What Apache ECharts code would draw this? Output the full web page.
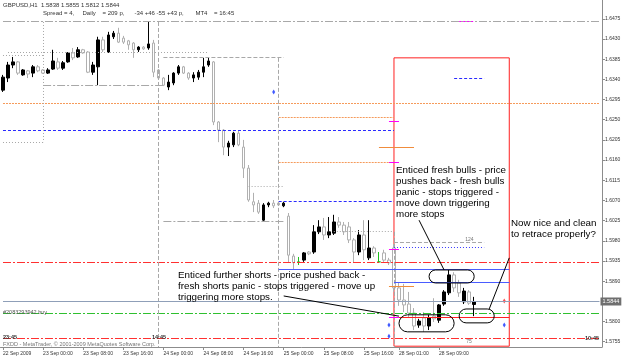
<!DOCTYPE html>
<html>
<head>
<meta charset="utf-8">
<script src="https://cdn.jsdelivr.net/npm/echarts@6/dist/echarts.min.js"></script>
<style>
  html, body { margin: 0; padding: 0; background: #fff; }
  #chart { width: 625px; height: 362px; }
</style>
</head>
<body>
<div id="chart"></div>
<script>
// ---- GBPUSD H1 bars ----
const openP = [
  1.6316, 1.6343, 1.6372, 1.6379, 1.6350, 1.6359, 1.6354, 1.6368, 1.6361, 1.6354,
  1.6363, 1.6379, 1.6365, 1.6379, 1.6399, 1.6390, 1.6406, 1.6401, 1.6356, 1.6368,
  1.6428, 1.6401, 1.6435, 1.6443, 1.6432, 1.6426, 1.6421, 1.6406, 1.6412, 1.6410,
  1.6421, 1.6361, 1.6343, 1.6323, 1.6332, 1.6354, 1.6368, 1.6354, 1.6343, 1.6345,
  1.6356, 1.6372, 1.6379, 1.6245, 1.6227, 1.6189, 1.6194, 1.6220, 1.6189, 1.6142,
  1.6067, 1.6064, 1.6026, 1.6060, 1.6064, 1.6064, 1.6058, 1.6035, 1.5946, 1.5933,
  1.5937, 1.5955, 1.5955, 1.6000, 1.6011, 1.5993, 1.5997, 1.6022, 1.6015, 1.6011,
  1.5982, 1.5955, 1.5993, 1.5942, 1.5964, 1.5933, 1.5953, 1.5937, 1.5964, 1.5875,
  1.5848, 1.5839, 1.5819, 1.5792, 1.5808, 1.5790, 1.5812, 1.5803, 1.5839, 1.5864,
  1.5904, 1.5886, 1.5844, 1.5866, 1.5838
];
const highP = [
  1.6350, 1.6379, 1.6390, 1.6381, 1.6363, 1.6361, 1.6372, 1.6372, 1.6363, 1.6365,
  1.6406, 1.6388, 1.6381, 1.6401, 1.6410, 1.6412, 1.6408, 1.6403, 1.6379, 1.6435,
  1.6435, 1.6446, 1.6448, 1.6455, 1.6437, 1.6428, 1.6423, 1.6414, 1.6414, 1.6468,
  1.6428, 1.6363, 1.6345, 1.6350, 1.6356, 1.6372, 1.6370, 1.6356, 1.6356, 1.6361,
  1.6388, 1.6388, 1.6381, 1.6247, 1.6229, 1.6203, 1.6223, 1.6227, 1.6205, 1.6149,
  1.6087, 1.6071, 1.6064, 1.6067, 1.6071, 1.6067, 1.6067, 1.6042, 1.5951, 1.5944,
  1.5955, 1.5957, 1.6015, 1.6026, 1.6031, 1.6033, 1.6038, 1.6033, 1.6022, 1.6022,
  1.5986, 1.6004, 1.6026, 1.6026, 1.5968, 1.5955, 1.5960, 1.5942, 1.5973, 1.5888,
  1.5884, 1.5866, 1.5830, 1.5806, 1.5821, 1.5815, 1.5852, 1.5839, 1.5870, 1.5915,
  1.5910, 1.5893, 1.5875, 1.5870, 1.5855
];
const lowP = [
  1.6312, 1.6334, 1.6365, 1.6350, 1.6348, 1.6343, 1.6345, 1.6356, 1.6352, 1.6352,
  1.6361, 1.6361, 1.6361, 1.6377, 1.6383, 1.6388, 1.6397, 1.6354, 1.6350, 1.6327,
  1.6401, 1.6399, 1.6430, 1.6421, 1.6419, 1.6406, 1.6388, 1.6401, 1.6406, 1.6406,
  1.6345, 1.6341, 1.6325, 1.6316, 1.6327, 1.6350, 1.6352, 1.6339, 1.6334, 1.6339,
  1.6345, 1.6368, 1.6238, 1.6200, 1.6171, 1.6169, 1.6189, 1.6191, 1.6120, 1.6067,
  1.6044, 1.6040, 1.6022, 1.6055, 1.6053, 1.6058, 1.6055, 1.5931, 1.5915, 1.5926,
  1.5933, 1.5948, 1.5951, 1.5995, 1.5982, 1.5986, 1.5993, 1.6009, 1.5993, 1.5975,
  1.5931, 1.5948, 1.5937, 1.5937, 1.5944, 1.5931, 1.5933, 1.5926, 1.5866, 1.5835,
  1.5821, 1.5808, 1.5781, 1.5786, 1.5777, 1.5781, 1.5799, 1.5797, 1.5835, 1.5859,
  1.5866, 1.5855, 1.5839, 1.5837, 1.5812
];
const closeP = [
  1.6345, 1.6372, 1.6379, 1.6354, 1.6361, 1.6352, 1.6368, 1.6359, 1.6354, 1.6361,
  1.6381, 1.6365, 1.6377, 1.6399, 1.6388, 1.6406, 1.6399, 1.6356, 1.6372, 1.6428,
  1.6406, 1.6439, 1.6443, 1.6423, 1.6423, 1.6417, 1.6406, 1.6412, 1.6408, 1.6419,
  1.6356, 1.6343, 1.6327, 1.6334, 1.6354, 1.6368, 1.6354, 1.6343, 1.6350, 1.6356,
  1.6368, 1.6381, 1.6245, 1.6227, 1.6189, 1.6198, 1.6220, 1.6194, 1.6142, 1.6071,
  1.6060, 1.6044, 1.6060, 1.6064, 1.6058, 1.6060, 1.6064, 1.5948, 1.5931, 1.5933,
  1.5953, 1.5951, 1.6000, 1.6011, 1.5993, 1.6000, 1.6022, 1.6015, 1.6000, 1.5982,
  1.5955, 1.5993, 1.5960, 1.5964, 1.5953, 1.5933, 1.5937, 1.5931, 1.5875, 1.5848,
  1.5837, 1.5819, 1.5790, 1.5801, 1.5790, 1.5808, 1.5806, 1.5837, 1.5866, 1.5904,
  1.5875, 1.5864, 1.5868, 1.5841, 1.5844
];
const dojiBars = [59, 75];

// time axis: [day, first hour, last hour]
const daySegments = [['22 Sep', 16, 23], ['23 Sep', 0, 23], ['24 Sep', 0, 23], ['25 Sep', 0, 21], ['28 Sep', 0, 16]];
const emptySlots = 25; // chart shift on the right
const xLabelBars = [0, 8, 16, 24, 32, 40, 48, 56, 64, 72, 79, 87];
const yTicks = [1.5755, 1.5800, 1.5890, 1.5935, 1.5980, 1.6025, 1.6070, 1.6115, 1.6160,
  1.6205, 1.6250, 1.6295, 1.6340, 1.6385, 1.6430, 1.6475];

// price levels drawn on the chart
const bidPrice = 1.5844;
const topLevel = 1.6468;
const orangeLevels = [1.6287, 1.6256, 1.6154];
const blueDashLevels = [1.6225, 1.6067];
const redDashLevels = [1.5931, 1.5763];
const orderLevel = 1.5819;
const boxHighs = [1.6394, 1.6468, 1.6388];
const boxLows = [1.6200, 1.6327, 1.6022];
const blueSolidLevels = [1.5915, 1.5888];
const stopLevel = 1.5808;
const orangeSolidLevels = [1.6189, 1.5879];
const rangeLevels = [1.5977, 1.5966];
const magentaTicks = [1.6247, 1.6154, 1.5960, 1.5808];
const blueArrows = [[54, 1.6312], [77, 1.5792], [100, 1.5792], [77, 1.5767]];
const redArrows = [[100, 1.5846]];
const boxPrices = [1.6388, 1.5745];

// ---------------------------------------------------
const categories = [];
daySegments.forEach(([day, h0, h1]) => {
  for (let h = h0; h <= h1; h++) categories.push(day + ' ' + String(h).padStart(2, '0') + ':00');
});
for (let k = 0; k < emptySlots; k++) categories.push('');
const lastSlot = categories.length - 0.51; // right edge of the plot

const green = { color: '#1fc01f', color0: '#1fc01f', borderColor: '#1fc01f', borderColor0: '#1fc01f' };
const candles = openP.map((o, i) => {
  const item = { value: [o, closeP[i], lowP[i], highP[i]] };
  if (dojiBars.includes(i)) item.itemStyle = green;
  return item;
});

const yMin = 1.57432, yMax = 1.6517;
const plotH = 347, plotW = 602;
// keep 1px level lines on pixel centres so they stay crisp
const snapP = p => {
  const y = (yMax - p) / (yMax - yMin) * plotH;
  return yMax - (Math.floor(y) + 0.5) / plotH * (yMax - yMin);
};
const slotW = plotW / categories.length;
const snapI = i => {
  const x = (i + 0.5) * slotW;
  return (Math.floor(x) + 0.5) / slotW - 0.5;
};

const DASHDOT = [8, 2, 2, 2];
const st = {
  gray: ['#a8a8a8', DASHDOT],
  grayDot: ['#a8a8a8', [1, 2]],
  grayDash: ['#a8a8a8', [4, 2]],
  orange: ['#f59a5a', [2, 1]],
  orangeSolid: ['#f08c3c', 'solid'],
  blue: ['#2a2aff', [3, 2]],
  blueDot: ['#3a3aff', [1, 2]],
  blueSolid: ['#4a5cff', 'solid'],
  red: ['#ff3030', DASHDOT],
  redSolid: ['#ff2020', 'solid'],
  green: ['#2fc02f', DASHDOT],
  bid: ['#8f9fb8', 'solid'],
  magenta: ['#ff00ff', 'solid'],
  magentaDash: ['#ff00ff', [2, 2]]
};
const ls = s => ({ color: s[0], width: 1, type: Array.isArray(s[1]) ? s[1].slice() : s[1], opacity: 1 });
const seg = (a, b, p, s) => [{ coord: [a, snapP(p)], lineStyle: ls(s) }, { coord: [b, snapP(p)] }];
const vseg = (i, p1, p2, s) => [{ coord: [snapI(i), p1], lineStyle: ls(s) }, { coord: [snapI(i), p2] }];
const full = (p, s) => seg(-0.49, lastSlot, p, s);

const bidLine = full(bidPrice, st.bid);
bidLine[0].label = {
  show: true, position: 'end', distance: 1, formatter: bidPrice.toFixed(4),
  backgroundColor: '#6f6f6f', color: '#fff', fontSize: 5.5, padding: [1, 2, 1, 2],
  fontFamily: 'Liberation Sans'
};

const lines = [
  full(topLevel, st.gray),
  full(orangeLevels[0], st.orange),
  full(redDashLevels[0], st.red),
  full(redDashLevels[1], st.red),
  full(orderLevel, st.green),
  seg(-0.49, 78, blueDashLevels[0], st.blue),
  seg(55.3, 78, blueDashLevels[1], st.blue),
  seg(55.3, 78, orangeLevels[1], st.orange),
  seg(55.3, 78, orangeLevels[2], st.orange),
  // daily range boxes
  seg(0, 8, boxHighs[0], st.grayDot),
  seg(0, 8, boxLows[0], st.grayDot),
  seg(8, 32, boxLows[1], st.gray),
  seg(32, 56, boxHighs[2], st.grayDash),
  seg(32, 56, boxLows[2], st.gray),
  seg(1, 41, 1.6401, st.grayDot),
  seg(49, 56, 1.6102, st.grayDot),
  seg(66, 78, 1.6000, st.grayDot),
  vseg(8, boxHighs[1], boxLows[0], st.grayDot),
  vseg(31.5, boxHighs[1], yMin, st.grayDash),
  vseg(55.3, boxHighs[2], yMin, st.grayDash),
  vseg(78, 1.6000, yMin, st.grayDash),
  // Monday structure
  seg(55.3, 101, blueSolidLevels[0], st.blueSolid),
  seg(78, 101, blueSolidLevels[1], st.blueSolid),
  seg(78, 101, stopLevel, st.redSolid),
  seg(78, 96, rangeLevels[0], st.grayDash),
  seg(78, 96, rangeLevels[1], st.blueDot),
  seg(74.8, 81.6, orangeSolidLevels[0], st.orangeSolid),
  seg(76.8, 81.6, orangeSolidLevels[1], st.orangeSolid),
  seg(90.8, 93.6, topLevel, st.magentaDash),
  seg(89.5, 95.5, 1.6343, st.blue),
  ...magentaTicks.map(p => seg(77.4, 78.6, p, st.magenta)),
  bidLine
];

const chart = echarts.init(document.getElementById('chart'));
chart.setOption({
  animation: false,
  backgroundColor: '#ffffff',
  grid: { left: 0, right: 23, top: 0, bottom: 15 },
  xAxis: {
    type: 'category',
    data: categories,
    boundaryGap: true,
    axisLine: { lineStyle: { color: '#8c8c8c', width: 1 } },
    axisTick: { show: true, alignWithLabel: true, interval: i => xLabelBars.includes(i), length: 3, lineStyle: { color: '#8c8c8c' } },
    axisLabel: {
      interval: i => xLabelBars.includes(i),
      formatter: (v, i) => (i === 0 ? '22 Sep 2009' : v),
      align: 'left', fontSize: 5, color: '#333', margin: 4, fontFamily: 'Liberation Sans'
    },
    splitLine: { show: false }
  },
  yAxis: {
    type: 'value',
    position: 'right',
    min: yMin,
    max: yMax,
    axisLine: { show: true, lineStyle: { color: '#8c8c8c' } },
    axisTick: { show: true, customValues: yTicks, length: 3, lineStyle: { color: '#8c8c8c' } },
    axisLabel: { customValues: yTicks, formatter: v => v.toFixed(4), fontSize: 5, color: '#333', margin: 3, fontFamily: 'Liberation Sans' },
    splitLine: { show: false }
  },
  series: [
    {
      // level lines and the red box live on their own carrier series
      type: 'scatter', data: redArrows, symbol: 'diamond', symbolSize: [3, 5],
      itemStyle: { color: '#ff2020' }, z: 1,
      markLine: { silent: true, symbol: ['none', 'none'], label: { show: false }, data: lines },
      markArea: {
        silent: true,
        itemStyle: { color: 'rgba(0,0,0,0)', borderColor: '#ff2020', borderWidth: 1 },
        data: [[{ coord: [78, boxPrices[0]] }, { coord: [101, boxPrices[1]] }]]
      }
    },
    {
      type: 'candlestick',
      data: candles,
      barWidth: 3,
      z: 3,
      itemStyle: { color: '#000', borderColor: '#000', color0: '#fff', borderColor0: '#b0b0b0', borderWidth: 1 }
    },
    {
      type: 'scatter', data: blueArrows, symbol: 'diamond', symbolSize: [3, 5],
      itemStyle: { color: '#1030ff' }, z: 5
    }
  ]
});

// annotations placed through the chart's own scales
const px = (i, p) => chart.convertToPixel({ gridIndex: 0 }, [i, p]);
const ellipse = (i1, p1, i2, p2) => {
  const a = px(i1, p1), b = px(i2, p2);
  const h = b[1] - a[1];
  return { type: 'rect', shape: { x: a[0], y: a[1], width: b[0] - a[0], height: h, r: h / 2 },
    style: { fill: 'none', stroke: '#000', lineWidth: 1 }, z: 10 };
};
const connector = (i1, p1, i2, p2) => {
  const a = px(i1, p1), b = px(i2, p2);
  return { type: 'line', shape: { x1: a[0], y1: a[1], x2: b[0], y2: b[1] },
    style: { stroke: '#000', lineWidth: 1 }, z: 10 };
};
const label = (x, y, text, size, extra) => ({
  type: 'text', x, y, z: 20,
  style: Object.assign({ text, fontSize: size, fontFamily: 'Liberation Sans', fill: '#000', lineHeight: size * 1.12 }, extra || {})
});

const g124 = px(93, rangeLevels[0]);
const g75 = px(93, boxPrices[1]);

chart.setOption({
  graphic: [
    ellipse(78.6, 1.5815, 89.8, 1.5777),
    ellipse(85.2, 1.5915, 93.6, 1.5886),
    ellipse(90.8, 1.5828, 97.8, 1.5797),
    connector(55.7, 1.5857, 79.2, 1.5812),
    connector(82.8, 1.6026, 88.2, 1.5915),
    connector(101.2, 1.5942, 96.8, 1.5828),
    label(396, 165, 'Enticed fresh bulls - price\npushes back - fresh bulls\npanic - stops triggered -\nmove down triggering\nmore stops', 9.8),
    label(511, 218, 'Now nice and clean\nto retrace properly?', 9.8),
    label(178, 270, 'Enticed further shorts - price pushed back -\nfresh shorts panic - stops triggered - move up\ntriggering more stops.', 9.8),
    label(g124[0] - 4, g124[1] - 5, '124', 5, { fill: '#777' }),
    label(g75[0] - 3, g75[1] - 7, '75', 5, { fill: '#777' }),
    label(3, 2, 'GBPUSD,H1  1.5838 1.5855 1.5812 1.5844', 6, { fill: '#333' }),
    label(43, 10, 'Spread = 4,     Daily    = 209 p,      -34 +46 -55 +43 p,       MT4    = 16:45', 6, { fill: '#333' }),
    label(3, 309, '#2083293942 buy', 5.5, { fill: '#555' }),
    label(3, 334, '23:45', 5.5, { fill: '#333', fontWeight: 'bold' }),
    label(152, 334, '14:45', 5.5, { fill: '#333', fontWeight: 'bold' }),
    label(585, 335, '10:45', 5.5, { fill: '#333', fontWeight: 'bold' }),
    label(3, 341, 'FXDD - MetaTrader, \u00a9 2001-2009 MetaQuotes Software Corp.', 5.5, { fill: '#777' })
  ]
});
</script>
</body>
</html>
